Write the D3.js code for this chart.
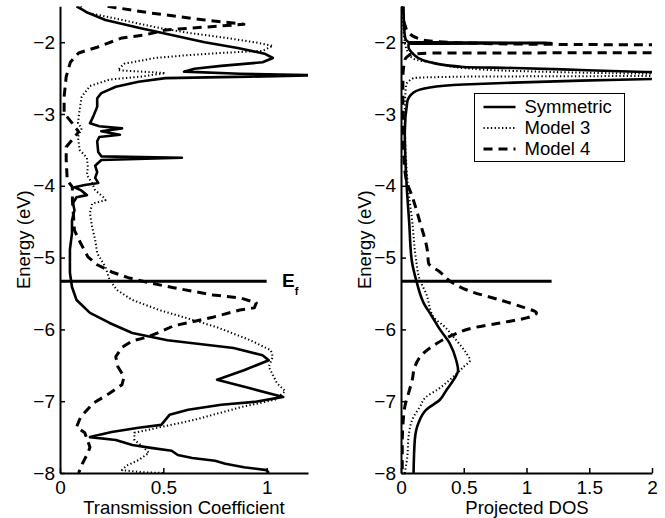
<!DOCTYPE html>
<html lang="en">
<head>
<meta charset="UTF-8">
<title>Transmission and projected DOS</title>
<style>
  body { margin: 0; background: #fff; }
  svg { display: block; }
</style>
</head>
<body>
<svg></svg>
<script src="https://d3js.org/d3.v7.min.js"></script>
<script>
// values; energy (eV) runs along the vertical axis

// transmission coefficient, left panel
const transSymE = [-1.50, -1.59, -1.69, -1.80, -1.90, -2.00, -2.08, -2.16, -2.22, -2.28, -2.33, -2.37, -2.41, -2.44, -2.46, -2.48, -2.50,
  -2.55, -2.62, -2.71, -2.78, -2.90, -3.04, -3.13, -3.17, -3.20, -3.24, -3.29, -3.32, -3.38, -3.53, -3.59, -3.61, -3.64,
  -3.72, -3.81, -3.89, -3.96, -3.99, -4.02, -4.06, -4.13, -4.16, -4.24, -4.34, -4.48, -4.66, -4.89, -5.21, -5.41, -5.59,
  -5.77, -5.91, -6.05, -6.15, -6.26, -6.36, -6.43, -6.57, -6.70, -6.82, -6.94, -7.01, -7.05, -7.12, -7.19, -7.26, -7.33,
  -7.37, -7.43, -7.50, -7.54, -7.61, -7.65, -7.69, -7.75, -7.79, -7.83, -7.87, -7.92, -7.96, -8.00];
const transSymT = [0.08, 0.135, 0.22, 0.38, 0.54, 0.70, 0.86, 0.99, 1.03, 0.98, 0.78, 0.65, 0.60, 0.87, 1.26, 0.92, 0.51,
  0.38, 0.27, 0.20, 0.18, 0.18, 0.16, 0.145, 0.19, 0.30, 0.20, 0.29, 0.19, 0.18, 0.185, 0.20, 0.59, 0.20,
  0.17, 0.18, 0.17, 0.185, 0.12, 0.07, 0.10, 0.13, 0.08, 0.063, 0.07, 0.058, 0.058, 0.048, 0.048, 0.058, 0.08,
  0.145, 0.24, 0.35, 0.52, 0.84, 0.98, 1.01, 0.89, 0.76, 0.92, 1.08, 0.94, 0.78, 0.62, 0.53, 0.51, 0.49,
  0.38, 0.25, 0.145, 0.27, 0.35, 0.44, 0.54, 0.57, 0.64, 0.75, 0.80, 0.89, 1.00, 1.01];

const transM3E = [-1.50, -1.58, -1.69, -1.79, -1.87, -1.93, -2.00, -2.05, -2.12, -2.15, -2.18, -2.22, -2.30, -2.39, -2.43, -2.48,
  -2.52, -2.61, -2.76, -2.94, -3.13, -3.20, -3.32, -3.50, -3.61, -3.74, -3.85, -3.96, -4.06, -4.16, -4.20, -4.25, -4.38,
  -4.57, -4.75, -4.94, -5.13, -5.31, -5.45, -5.59, -5.73, -5.84, -5.97, -6.15, -6.29, -6.38, -6.52, -6.75, -6.86, -6.98,
  -7.08, -7.26, -7.44, -7.54, -7.63, -7.72, -7.82, -7.90, -7.96, -7.99, -8.00];
const transM3T = [0.10, 0.12, 0.30, 0.46, 0.62, 0.78, 0.94, 1.03, 0.98, 0.78, 0.62, 0.46, 0.31, 0.28, 0.51, 0.39,
  0.24, 0.145, 0.105, 0.095, 0.087, 0.105, 0.087, 0.095, 0.13, 0.135, 0.13, 0.155, 0.17, 0.21, 0.22, 0.155, 0.145,
  0.155, 0.17, 0.18, 0.22, 0.24, 0.275, 0.35, 0.48, 0.61, 0.76, 0.92, 1.02, 1.03, 1.01, 1.05, 1.09, 1.04,
  0.88, 0.65, 0.36, 0.36, 0.40, 0.43, 0.38, 0.32, 0.30, 0.40, 0.50];

const transM4E = [-1.50, -1.59, -1.69, -1.75, -1.83, -1.90, -1.94, -2.07, -2.15, -2.28, -2.48, -2.76, -2.99, -3.13, -3.25,
  -3.46, -3.64, -3.92, -4.02, -4.20, -4.41, -4.62, -4.80, -4.99, -5.10, -5.20, -5.28, -5.35, -5.42, -5.52, -5.56,
  -5.63, -5.70, -5.73, -5.83, -5.90, -5.95, -6.04, -6.11, -6.16, -6.25, -6.38, -6.52, -6.66, -6.77, -6.89, -7.03,
  -7.22, -7.36, -7.44, -7.64, -7.72, -7.86, -8.00];
const transM4T = [0.23, 0.43, 0.70, 0.89, 0.51, 0.41, 0.30, 0.18, 0.09, 0.05, 0.03, 0.02, 0.02, 0.06, 0.09,
  0.03, 0.03, 0.035, 0.06, 0.06, 0.065, 0.07, 0.10, 0.135, 0.18, 0.25, 0.33, 0.43, 0.55, 0.74, 0.87,
  0.95, 0.94, 0.87, 0.74, 0.63, 0.55, 0.48, 0.42, 0.35, 0.30, 0.27, 0.28, 0.31, 0.30, 0.24, 0.16,
  0.10, 0.08, 0.12, 0.145, 0.135, 0.11, 0.09];

// projected density of states, right panel
const dosSymE = [-1.50, -1.80, -1.95, -2.00, -2.011, -2.022, -2.07, -2.15, -2.21, -2.28, -2.345, -2.36, -2.387, -2.415, -2.45,
  -2.51, -2.535, -2.563, -2.59, -2.63, -2.70, -2.83, -3.26, -4.00, -4.50, -5.03, -5.34, -5.63, -5.80, -6.00, -6.20, -6.43,
  -6.57, -6.70, -6.85, -6.98, -7.12, -7.30, -7.54, -8.00];
const dosSymD = [0.02, 0.025, 0.035, 0.06, 1.2, 0.06, 0.06, 0.09, 0.13, 0.23, 0.5, 0.9, 1.43, 1.95, 3.0,
  2.05, 1.43, 0.9, 0.5, 0.23, 0.10, 0.05, 0.03, 0.045, 0.065, 0.085, 0.125, 0.18, 0.24, 0.31, 0.39, 0.44,
  0.455, 0.42, 0.36, 0.31, 0.20, 0.14, 0.11, 0.10];

const dosM3E = [-1.50, -2.00, -2.15, -2.23, -2.30, -2.36, -2.40, -2.44, -2.46, -2.47, -2.48, -2.50, -2.60, -3.00, -4.00,
  -4.50, -5.03, -5.31, -5.50, -5.83, -5.95, -6.15, -6.33, -6.43, -6.52, -6.70, -6.84, -6.94, -7.08, -7.22, -7.50,
  -7.78, -8.00];
const dosM3D = [0.01, 0.03, 0.06, 0.10, 0.30, 0.50, 0.90, 2.0, 3.0, 2.0, 0.5, 0.10, 0.04, 0.03, 0.055,
  0.09, 0.12, 0.15, 0.20, 0.26, 0.34, 0.44, 0.52, 0.55, 0.50, 0.39, 0.29, 0.20, 0.15, 0.10, 0.06,
  0.05, 0.03];

const dosM4E = [-1.50, -1.65, -1.78, -1.86, -1.97, -2.01, -2.03, -2.04, -2.09, -2.145, -2.152, -2.17, -2.25, -2.50, -3.00,
  -3.50, -3.90, -4.15, -4.50, -4.90, -5.08, -5.20, -5.35, -5.48, -5.59, -5.69, -5.77, -5.84, -5.91, -5.98, -6.08,
  -6.19, -6.33, -6.52, -6.70, -6.89, -7.08, -7.22, -7.60, -8.00];
const dosM4D = [0.0, 0.015, 0.035, 0.056, 0.18, 0.5, 1.2, 2.2, 3.0, 2.2, 0.25, 0.08, 0.03, 0.015, 0.015,
  0.02, 0.04, 0.09, 0.15, 0.21, 0.22, 0.31, 0.41, 0.57, 0.79, 0.97, 1.08, 1.0, 0.79, 0.57, 0.41,
  0.29, 0.18, 0.11, 0.09, 0.06, 0.03, 0.02, 0.01, 0.01];

const energyTicks = [-8, -7, -6, -5, -4, -3, -2];
const transTicks = [0, 0.5, 1];
const dosTicks = [0, 0.5, 1, 1.5, 2];
const seriesNames = ['Symmetric', 'Model 3', 'Model 4'];
const fermiLevel = -5.33;
// the fermi marker line stops at T = 1 on the left and DOS = 1.2 on the right
const transFermiEnd = 1.0;
const dosFermiEnd = 1.2;

const width = 665, height = 518;
const plotTop = 6.3, plotBottom = 473;
const font = '"Liberation Sans", Arial, Helvetica, sans-serif';

// solid, dotted, dashed like the matlab original
const lineStyles = [
  { w: 2.6, dash: null },
  { w: 2, dash: '1.3,2.4' },
  { w: 3, dash: '9,6' }
];

const svg = d3.select('svg')
  .attr('width', width)
  .attr('height', height)
  .attr('font-family', font);

const y = d3.scaleLinear().domain([-8, -1.5]).range([plotBottom, plotTop]);
const xT = d3.scaleLinear().domain([0, 1.2]).range([60, 308]);
const xD = d3.scaleLinear().domain([0, 2]).range([401, 652]);

function panel(id, x, ticks, title, curves, curve, fermiEnd, labelX, titleX) {
  const g = svg.append('g');
  const [x0, x1] = x.range();

  g.append('clipPath').attr('id', id)
    .append('rect')
    .attr('x', x0).attr('y', plotTop)
    .attr('width', x1 - x0).attr('height', plotBottom - plotTop);

  const line = d3.line()
    .x(d => x(d[1]))
    .y(d => y(d[0]))
    .curve(curve);

  curves.forEach((c, i) => {
    g.append('path')
      .datum(d3.zip(c[0], c[1]))
      .attr('clip-path', `url(#${id})`)
      .attr('fill', 'none')
      .attr('stroke', '#000')
      .attr('stroke-width', lineStyles[i].w)
      .attr('stroke-dasharray', lineStyles[i].dash)
      .attr('stroke-linejoin', 'round')
      .attr('d', line);
  });

  // fermi level marker
  g.append('line')
    .attr('x1', x(0)).attr('x2', x(fermiEnd))
    .attr('y1', y(fermiLevel)).attr('y2', y(fermiLevel))
    .attr('stroke', '#000')
    .attr('stroke-width', 3);

  const ax = g.append('g')
    .attr('transform', `translate(0,${plotBottom})`)
    .call(d3.axisBottom(x).tickValues(ticks).tickFormat(d => String(d))
      .tickSizeInner(-5).tickSizeOuter(0).tickPadding(8));

  const ay = g.append('g')
    .attr('transform', `translate(${x0},0)`)
    .call(d3.axisLeft(y).tickValues(energyTicks).tickFormat(d => '\u2212' + Math.abs(d))
      .tickSizeInner(-5).tickSizeOuter(0).tickPadding(5));

  [ax, ay].forEach(a => {
    a.attr('font-size', 19).attr('font-family', font);
    a.select('.domain').attr('stroke-width', 2);
    a.selectAll('.tick line').attr('stroke-width', 1.5);
    a.selectAll('.tick text').attr('fill', '#000');
  });

  g.append('text')
    .attr('transform', `translate(${labelX},${(plotTop + plotBottom) / 2}) rotate(-90)`)
    .attr('text-anchor', 'middle')
    .attr('font-size', 18.5)
    .text('Energy (eV)');

  g.append('text')
    .attr('x', titleX)
    .attr('y', 514)
    .attr('text-anchor', 'middle')
    .attr('font-size', 18.5)
    .text(title);

  return g;
}

const left = panel('clipT', xT, transTicks, 'Transmission Coefficient',
  [[transSymE, transSymT], [transM3E, transM3T], [transM4E, transM4T]],
  d3.curveLinear, transFermiEnd, 30, 184);

panel('clipD', xD, dosTicks, 'Projected DOS',
  [[dosSymE, dosSymD], [dosM3E, dosM3D], [dosM4E, dosM4D]],
  d3.curveMonotoneY, dosFermiEnd, 371, 527);

// E_f label next to the fermi line
const ef = left.append('text')
  .attr('x', 282)
  .attr('y', y(fermiLevel) + 6)
  .attr('font-size', 19)
  .attr('font-weight', 'bold');
ef.append('tspan').text('E');
ef.append('tspan').attr('dy', 8).attr('font-size', 11).text('f');

// legend
const legend = svg.append('g').attr('transform', 'translate(474.5,93.5)');
legend.append('rect')
  .attr('width', 150).attr('height', 68)
  .attr('fill', '#fff').attr('stroke', '#000').attr('stroke-width', 1);

seriesNames.forEach((name, i) => {
  const ly = 13.5 + i * 21;
  legend.append('line')
    .attr('x1', 9).attr('x2', 41)
    .attr('y1', ly).attr('y2', ly)
    .attr('stroke', '#000')
    .attr('stroke-width', lineStyles[i].w)
    .attr('stroke-dasharray', lineStyles[i].dash);
  legend.append('text')
    .attr('x', 50).attr('y', ly)
    .attr('dy', '0.35em')
    .attr('font-size', 18.5)
    .text(name);
});
</script>
</body>
</html>
